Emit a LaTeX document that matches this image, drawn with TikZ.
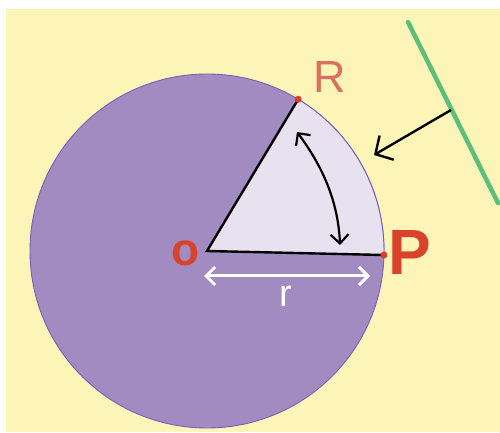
\documentclass[tikz,border=0pt]{standalone}
\usepackage{fontspec}
\setmainfont{Liberation Sans}
\usetikzlibrary{arrows.meta,calc}
\definecolor{bgyel}{HTML}{FDF4B8}
\definecolor{disc}{HTML}{A18BC1}
\definecolor{discedge}{HTML}{7A5FB5}
\definecolor{sect}{HTML}{E8E1F0}
\definecolor{grn}{HTML}{5BBF7A}
\definecolor{rlab}{HTML}{D97060}
\definecolor{plab}{HTML}{D8432B}
\definecolor{dotred}{HTML}{E03A2A}
\tikzset{
  radline/.style={line width=2.4pt, black, line cap=round},
  dbarb/.style={{Straight Barb[length=#1pt, width=2*#1pt]}-{Straight Barb[length=#1pt, width=2*#1pt]}},
  reddot/.style={circle, fill=dotred, inner sep=0pt, minimum size=7pt},
  lbl/.style={inner sep=0pt, font=\fontsize{#1}{#1}\selectfont},
}
\begin{document}
\begin{tikzpicture}[x=1pt,y=1pt]
\useasboundingbox (0,0) rectangle (500,433);
\fill[white] (0,0) rectangle (500,433);
\fill[bgyel] (6,1) rectangle (500,424);
% disc
\coordinate (O) at (207,182);
\fill[disc, draw=discedge, line width=0.9pt] (O) circle[radius=177pt];
% sector
\coordinate (P) at ($(O)+(-1.3:177pt)$);
\coordinate (R) at ($(O)+(59:177pt)$);
\fill[sect] (O) -- (P) arc[start angle=-1.3, end angle=59, radius=177pt] -- cycle;
\draw[discedge, line width=0.9pt] (P) arc[start angle=-1.3, end angle=59, radius=177pt];
\draw[radline] (R) -- (O) -- (P);
\node[reddot] (Rd) at (R) {};
\node[reddot] (Pd) at (P) {};
% labels
\node[lbl=45, text=rlab] (Rl) at (330,356) {R};
\node[lbl=64, text=plab, font=\bfseries\fontsize{64}{64}\selectfont] (Pl) at (410,181) {P};
\node[lbl=46, text=plab, font=\bfseries\fontsize{46}{46}\selectfont] (Ol) at (186,180) {o};
% angle arrow
\coordinate (a1) at (297,301);
\coordinate (a2) at (340,188);
\draw[line width=2.2pt, dbarb=9] (a1) .. controls (320,270) and (338,235) .. (a2);
% radius arrow
\coordinate (w1) at (204,157);
\coordinate (w2) at (370,157);
\draw[white, line width=3pt, dbarb=9] (w1) -- (w2);
\node[lbl=38, text=white] (rl) at (286,137) {r};
% green line and arrow
\coordinate (g1) at (408,411);
\coordinate (g2) at (498,230);
\draw[grn, line width=4.5pt, line cap=round] (g1) -- (g2);
\coordinate (b1) at (451,323);
\coordinate (b2) at (374,278);
\draw[line width=2.4pt, -{Straight Barb[length=13pt, width=28pt]}] (b1) -- (b2);
\end{tikzpicture}
\end{document}
